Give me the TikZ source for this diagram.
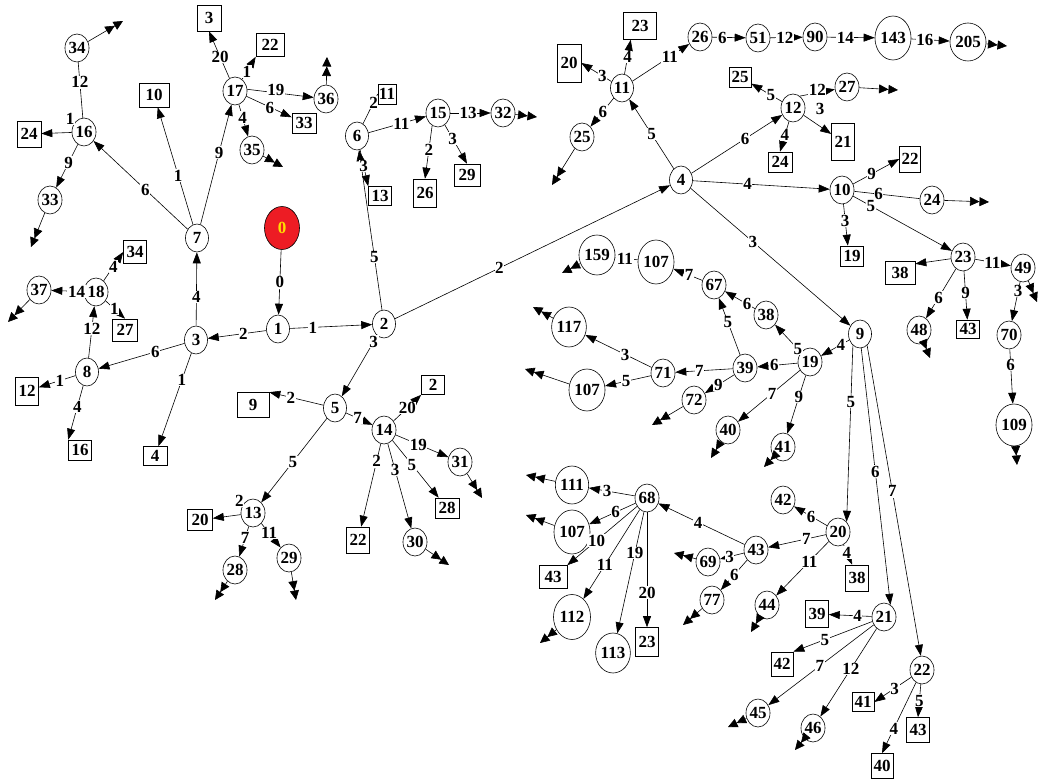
\documentclass[tikz,border=0pt]{standalone}
\usepackage{fontspec}
\setmainfont{Liberation Serif}[BoldFont={Liberation Serif Bold}]
\usetikzlibrary{shapes.geometric,arrows.meta}
\newcommand\myfnt{\fontsize{17}{17}\selectfont\bfseries}
\definecolor{rootred}{RGB}{237,28,36}
\definecolor{rootyel}{RGB}{255,222,0}
\begin{document}
\begin{tikzpicture}[x=1pt,y=-1pt,
 every node/.style={font=\myfnt},
 cn/.style={ellipse, draw, line width=0.6pt, inner sep=0pt, minimum width=23pt, minimum height=28pt, text height=11.4pt, text depth=0pt},
 rn/.style 2 args={rectangle, draw, line width=0.6pt, inner sep=0pt, minimum width=#1pt, minimum height=#2pt, text height=11.4pt, text depth=0pt},
 edg/.style={line width=0.6pt, -{Triangle[length=11pt,width=8pt]}},
 plainedge/.style={line width=0.6pt},
 dang/.style={line width=0.6pt, -{Triangle[length=9.5pt,width=9pt]Triangle[length=9.5pt,width=9pt]}},
 lbl/.style={fill=white, inner sep=0.6pt, text height=11.4pt, text depth=0pt}]
\useasboundingbox (0,0) rectangle (1038,783);
% ellipse nodes
\node[cn, fill=rootred, text=rootyel, minimum width=35pt, minimum height=43pt] (n0) at (282,228) {0};
\node[cn] (n1) at (278,329) {1};
\node[cn] (n2) at (384,324) {2};
\node[cn] (n3) at (196,340) {3};
\node[cn] (n4) at (681,180) {4};
\node[cn] (n5) at (335,408) {5};
\node[cn] (n6) at (357,136) {6};
\node[cn] (n7) at (197,238) {7};
\node[cn] (n8) at (87,372) {8};
\node[cn] (n9) at (860,334) {9};
\node[cn] (n10) at (842,190) {10};
\node[cn] (n11) at (622,88) {11};
\node[cn] (n12) at (793,108) {12};
\node[cn] (n13) at (253,513) {13};
\node[cn] (n14) at (384,430) {14};
\node[cn] (n15) at (438,113) {15};
\node[cn] (n16) at (84,132) {16};
\node[cn] (n17) at (235,91) {17};
\node[cn] (n18) at (96,292) {18};
\node[cn] (n19) at (810,362) {19};
\node[cn] (n20) at (838,532) {20};
\node[cn] (n21) at (884,617) {21};
\node[cn] (n22) at (922,670) {22};
\node[cn] (n23) at (963,257) {23};
\node[cn] (n24) at (932,200) {24};
\node[cn] (n25) at (582,137) {25};
\node[cn] (n26) at (700,37) {26};
\node[cn] (n27) at (847,87) {27};
\node[cn] (n28) at (235,570) {28};
\node[cn] (n29) at (289,558) {29};
\node[cn] (n30) at (415,542) {30};
\node[cn] (n31) at (460,462) {31};
\node[cn] (n32) at (503,113) {32};
\node[cn] (n33) at (50,200) {33};
\node[cn] (n34) at (77,48) {34};
\node[cn] (n35) at (252,150) {35};
\node[cn] (n36) at (326,99) {36};
\node[cn] (n37) at (39,290) {37};
\node[cn] (n38) at (766,315) {38};
\node[cn] (n39) at (745,368) {39};
\node[cn] (n40) at (728,430) {40};
\node[cn] (n41) at (783,447) {41};
\node[cn] (n42) at (783,500) {42};
\node[cn] (n43) at (756,550) {43};
\node[cn] (n44) at (767,605) {44};
\node[cn] (n45) at (758,713) {45};
\node[cn] (n46) at (813,728) {46};
\node[cn] (n48) at (919,330) {48};
\node[cn] (n49) at (1023,268) {49};
\node[cn] (n51) at (758,38) {51};
\node[cn] (n67) at (714,285) {67};
\node[cn] (n68) at (647,498) {68};
\node[cn] (n69) at (708,562) {69};
\node[cn] (n70) at (1009,335) {70};
\node[cn] (n71) at (663,373) {71};
\node[cn] (n72) at (694,400) {72};
\node[cn] (n77) at (712,600) {77};
\node[cn] (n90) at (815,37) {90};
\node[cn, minimum width=34pt, minimum height=44pt] (n107a) at (656,262) {107};
\node[cn, minimum width=34pt, minimum height=42pt] (n107b) at (587,390) {107};
\node[cn, minimum width=36pt, minimum height=44pt] (n107c) at (572,532) {107};
\node[cn, minimum width=33pt, minimum height=42pt] (n109) at (1014,425) {109};
\node[cn, minimum width=33pt, minimum height=38pt] (n111) at (572,485) {111};
\node[cn, minimum width=37pt, minimum height=45pt] (n112) at (572,617) {112};
\node[cn, minimum width=33pt, minimum height=40pt] (n113) at (613,653) {113};
\node[cn, minimum width=33pt, minimum height=40pt] (n117) at (569,327) {117};
\node[cn, minimum width=35pt, minimum height=44pt] (n143) at (893,38) {143};
\node[cn, minimum width=33pt, minimum height=40pt] (n159) at (597,255) {159};
\node[cn, minimum width=32pt, minimum height=38pt] (n205) at (968,42) {205};
% rectangle nodes
\node[rn={24}{26}] (r3) at (209,18) {3};
\node[rn={28}{23}] (r22a) at (270,45) {22};
\node[rn={30}{24}] (r10) at (154,95) {10};
\node[rn={24}{26}] (r24a) at (29,134) {24};
\node[rn={24}{20}] (r33) at (304,123) {33};
\node[rn={18}{20}] (r11) at (387,94) {11};
\node[rn={23}{19}] (r13) at (380,196) {13};
\node[rn={23}{28}] (r26) at (425,193) {26};
\node[rn={26}{22}] (r29) at (467,175) {29};
\node[rn={33}{27}] (r23a) at (640,26) {23};
\node[rn={24}{38}] (r20a) at (569,63) {20};
\node[rn={22}{20}] (r25) at (740,77) {25};
\node[rn={24}{20}] (r24b) at (780,162) {24};
\node[rn={23}{37}] (r21) at (843,142) {21};
\node[rn={21}{26}] (r22b) at (910,159) {22};
\node[rn={23}{20}] (r19) at (852,256) {19};
\node[rn={30}{23}] (r38a) at (900,273) {38};
\node[rn={23}{18}] (r43a) at (968,329) {43};
\node[rn={23}{23}] (r34) at (135,252) {34};
\node[rn={25}{22}] (r27) at (125,330) {27};
\node[rn={23}{28}] (r12) at (27,391) {12};
\node[rn={23}{20}] (r16) at (80,450) {16};
\node[rn={24}{19}] (r4) at (155,456) {4};
\node[rn={32}{25}] (r9) at (253,405) {9};
\node[rn={23}{19}] (r2) at (433,385) {2};
\node[rn={24}{20}] (r28) at (447,508) {28};
\node[rn={23}{26}] (r22c) at (358,540) {22};
\node[rn={25}{21}] (r20b) at (200,520) {20};
\node[rn={28}{23}] (r43b) at (553,577) {43};
\node[rn={23}{29}] (r23b) at (647,642) {23};
\node[rn={23}{26}] (r38b) at (857,578) {38};
\node[rn={23}{27}] (r39) at (817,614) {39};
\node[rn={22}{24}] (r42) at (782,664) {42};
\node[rn={22}{19}] (r41) at (863,702) {41};
\node[rn={23}{25}] (r43c) at (918,730) {43};
\node[rn={22}{25}] (r40) at (882,766) {40};
% edges
\draw[edg] (n0) -- node[lbl,pos=0.5]{0} (n1);
\draw[edg] (n1) -- node[lbl,pos=0.39]{2} (n3);
\draw[edg] (n1) -- node[lbl,pos=0.28]{1} (n2);
\draw[edg] (n2) -- node[lbl,pos=0.33]{5} (n6);
\draw[edg] (n2) -- node[lbl,pos=0.38]{2} (n4);
\draw[edg] (n2) -- node[lbl,pos=0.1]{3} (n5);
\draw[edg] (n3) -- node[lbl,pos=0.39]{4} (n7);
\draw[edg] (n3) -- node[lbl,pos=0.34]{6} (n8);
\draw[edg] (n3) -- node[lbl,pos=0.29]{1} (r4);
\draw[edg] (n8) -- node[lbl,pos=0.57]{12} (n18);
\draw[edg] (n8) -- node[lbl,pos=0.43]{1} (r12);
\draw[edg] (n8) -- node[lbl,pos=0.39]{4} (r16.north west);
\draw[edg] (n18) -- node[lbl,pos=0.22]{14} (n37);
\draw[edg] (n18) -- node[lbl,pos=0.5]{4} (r34.west);
\draw[edg] (n18) -- node[lbl,pos=0.45]{1} (r27.north);
\draw[edg] (n7) -- node[lbl,pos=0.45]{6} (n16);
\draw[edg] (n7) -- node[lbl,pos=0.42]{1} (r10);
\draw[edg] (n7) -- node[lbl,pos=0.6]{9} (n17);
\draw[plainedge] (n16) -- node[lbl,pos=0.64]{12} (n34);
\draw[edg] (n16) -- node[lbl,pos=0.05,yshift=14pt]{1} (r24a);
\draw[edg] (n16) -- node[lbl,pos=0.42]{9} (n33);
\draw[edg] (n17) -- node[lbl,pos=0.45]{20} (r3.south);
\draw[edg] (n17) -- node[lbl,pos=0.35]{1} (r22a.south west);
\draw[edg] (n17.8) -- node[lbl,pos=0.43,yshift=3pt]{19} (n36);
\draw[edg] (n17) -- node[lbl,pos=0.52,yshift=-1pt]{6} (r33);
\draw[edg] (n17) -- node[lbl,pos=0.4]{4} (n35);
\draw[plainedge] (n6) -- node[lbl,pos=0.72]{2} (r11.west);
\draw[edg] (n6) -- node[lbl,pos=0.57]{11} (n15);
\draw[edg] (n6) -- node[lbl,pos=0.45]{3} (r13.north west);
\draw[edg] (n15) -- node[lbl,pos=0.44]{13} (n32);
\draw[edg] (n15.245) -- node[lbl,pos=0.45]{2} (r26.north);
\draw[edg] (n15) -- node[lbl,pos=0.35]{3} (r29.north);
\draw[edg] (n5) -- node[lbl,pos=0.6]{2} (r9.north east);
\draw[edg] (n5) -- node[lbl,pos=0.44]{7} (n14);
\draw[edg] (n5) -- node[lbl,pos=0.52]{5} (n13);
\draw[edg] (n14) -- node[lbl,pos=0.5]{20} (r2.south west);
\draw[edg] (n14) -- node[lbl,pos=0.43]{19} (n31);
\draw[edg] (n14) -- node[lbl,pos=0.42]{5} (r28);
\draw[edg] (n14) -- node[lbl,pos=0.31]{3} (n30);
\draw[edg] (n14) -- node[lbl,pos=0.21]{2} (r22c);
\draw[edg] (n13) -- node[lbl,pos=0.05,yshift=14pt]{2} (r20b);
\draw[edg] (n13) -- node[lbl,pos=0.37]{7} (n28);
\draw[edg] (n13) -- node[lbl,pos=0.4]{11} (n29);
\draw[edg] (n4) -- node[lbl,pos=0.5]{5} (n11);
\draw[edg] (n4) -- node[lbl,pos=0.59]{6} (n12);
\draw[edg] (n4) -- node[lbl,pos=0.4]{4} (n10);
\draw[edg] (n4) -- node[lbl,pos=0.39]{3} (n9);
\draw[edg] (n11) -- node[lbl,pos=0.3]{3} (r20a.east);
\draw[edg] (n11) -- node[lbl,pos=0.5]{4} (r23a.236);
\draw[edg] (n11) -- node[lbl,pos=0.66]{11} (n26);
\draw[edg] (n11) -- node[lbl,pos=0.47]{6} (n25);
\draw[edg] (n26) -- node[lbl,pos=0.3]{6} (n51);
\draw[edg] (n51) -- node[lbl,pos=0.45]{12} (n90);
\draw[edg] (n90) -- node[lbl,pos=0.38]{14} (n143);
\draw[edg] (n143) -- node[lbl,pos=0.35]{16} (n205);
\draw[edg] (n12) -- node[lbl,pos=0.36]{5} (r25);
\draw[edg] (n12.60) -- node[lbl,pos=0.5,yshift=3pt]{12} (n27);
\draw[edg] (n12) -- node[lbl,pos=0.05,xshift=15pt,yshift=7pt]{3} (r21);
\draw[edg] (n12) -- node[lbl,pos=0.45]{4} (r24b.north);
\draw[edg] (n10) -- node[lbl,pos=0.4]{9} (r22b.west);
\draw[plainedge] (n10) -- node[lbl,pos=0.37]{6} (n24);
\draw[edg] (n10) -- node[lbl,pos=0.4]{3} (r19.112);
\draw[edg] (n10) -- node[lbl,pos=0.18]{5} (n23);
\draw[edg] (n23) -- (r38a.31);
\draw[edg] (n23) -- node[lbl,pos=0.48]{11} (n49);
\draw[edg] (n23) -- node[lbl,pos=0.58]{6} (n48);
\draw[edg] (n23) -- node[lbl,pos=0.45]{9} (r43a);
\draw[edg] (n49) -- node[lbl,pos=0.23]{3} (n70);
\draw[edg] (n70) -- node[lbl,pos=0.29]{6} (n109);
\draw[edg] (n9) -- node[lbl,pos=0.3]{4} (n19);
\draw[edg] (n9.238) -- node[lbl,pos=0.32]{5} (n20.50);
\draw[edg] (n9.275) -- node[lbl,pos=0.48]{6} (n21.62);
\draw[edg] (n9.302) -- node[lbl,pos=0.47]{7} (n22.95);
\draw[edg] (n19) -- node[lbl,pos=0.12]{5} (n38);
\draw[edg] (n19) -- node[lbl,pos=0.58]{6} (n39);
\draw[edg] (n19) -- node[lbl,pos=0.45]{7} (n40);
\draw[edg] (n19) -- node[lbl,pos=0.37]{9} (n41);
\draw[edg] (n38) -- node[lbl,pos=0.26]{6} (n67);
\draw[edg] (n39) -- node[lbl,pos=0.58]{5} (n67);
\draw[edg] (n39) -- node[lbl,pos=0.58]{7} (n71);
\draw[edg] (n39) -- node[lbl,pos=0.54]{9} (n72);
\draw[edg] (n67) -- node[lbl,pos=0.46]{7} (n107a);
\draw[edg] (n107a) -- node[lbl,pos=0.57]{11} (n159);
\draw[edg] (n71) -- node[lbl,pos=0.4]{3} (n117);
\draw[edg] (n71) -- node[lbl,pos=0.54]{5} (n107b);
\draw[edg] (n20) -- node[lbl,pos=0.48]{6} (n42);
\draw[edg] (n20) -- node[lbl,pos=0.34]{7} (n43);
\draw[edg] (n20) -- node[lbl,pos=0.37]{11} (n44);
\draw[edg] (n20) -- node[lbl,pos=0.4]{4} (r38b.110);
\draw[edg] (n43) -- node[lbl,pos=0.54]{4} (n68);
\draw[edg] (n43) -- node[lbl,pos=0.6]{3} (n69);
\draw[edg] (n43) -- node[lbl,pos=0.49]{6} (n77);
\draw[edg] (n68) -- node[lbl,pos=0.6]{3} (n111);
\draw[edg] (n68) -- node[lbl,pos=0.43]{6} (n107c);
\draw[edg] (n68) -- node[lbl,pos=0.58]{10} (r43b.north east);
\draw[edg] (n68) -- node[lbl,pos=0.62]{11} (n112);
\draw[edg] (n68) -- node[lbl,pos=0.34]{19} (n113);
\draw[edg] (n68) -- node[lbl,pos=0.7]{20} (r23b.north);
\draw[edg] (n21) -- node[lbl,pos=0.33]{4} (r39);
\draw[edg] (n21) -- node[lbl,pos=0.6]{5} (r42.north east);
\draw[edg] (n21) -- node[lbl,pos=0.51]{7} (n45);
\draw[edg] (n21) -- node[lbl,pos=0.46]{12} (n46);
\draw[edg] (n22) -- node[lbl,pos=0.45]{3} (r41.east);
\draw[edg] (n22) -- node[lbl,pos=0.5]{5} (r43c.north);
\draw[edg] (n22) -- node[lbl,pos=0.65]{4} (r40.north);
% truncated (dangling) edges
\foreach \n/\x/\y in {37/8/322, 34/123/21, 33/31/247, 35/283/167, 36/327/57, 32/537/117,
  31/482/498, 30/449/565, 28/215/600, 29/296/600, 25/552/185, 205/1007/46, 27/898/90,
  24/989/202, 48/930/358, 49/1037/302, 109/1017/465, 159/562/273, 117/533/307,
  107b/525/369, 72/652/425, 40/711/458, 41/764/467, 69/674/553, 77/683/625, 44/751/632,
  111/526/475, 107c/526/515, 112/540/643, 45/728/727, 46/795/750}
  {\coordinate (d\n) at (\x,\y); \draw[dang] (n\n) -- (d\n);}
\end{tikzpicture}
\end{document}
